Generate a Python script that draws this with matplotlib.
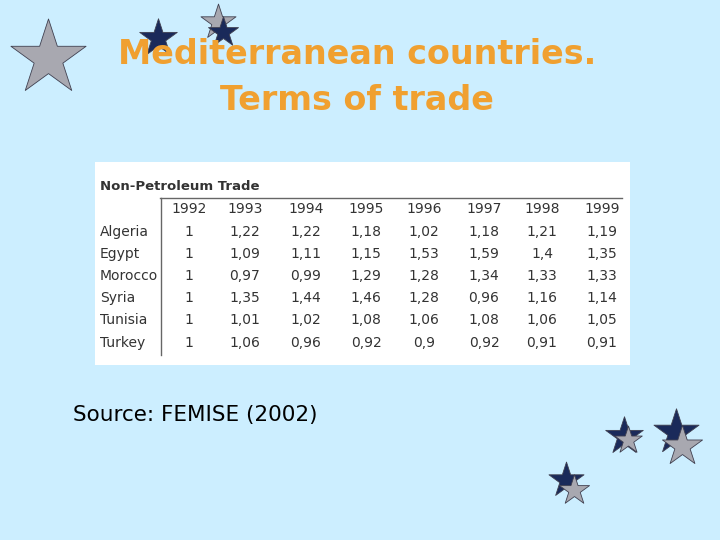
import matplotlib.pyplot as plt
from matplotlib.patches import Rectangle

years = ['1992', '1993', '1994', '1995', '1996', '1997', '1998', '1999']
countries = ['Algeria', 'Egypt', 'Morocco', 'Syria', 'Tunisia', 'Turkey']
values = [
    ['1', '1,22', '1,22', '1,18', '1,02', '1,18', '1,21', '1,19'],
    ['1', '1,09', '1,11', '1,15', '1,53', '1,59', '1,4', '1,35'],
    ['1', '0,97', '0,99', '1,29', '1,28', '1,34', '1,33', '1,33'],
    ['1', '1,35', '1,44', '1,46', '1,28', '0,96', '1,16', '1,14'],
    ['1', '1,01', '1,02', '1,08', '1,06', '1,08', '1,06', '1,05'],
    ['1', '1,06', '0,96', '0,92', '0,9', '0,92', '0,91', '0,91'],
]

fig = plt.figure(figsize=(7.2, 5.4), dpi=100)
fig.patch.set_facecolor('#cceeff')
ax = fig.add_axes([0, 0, 1, 1])
ax.set_xlim(0, 720)
ax.set_ylim(540, 0)
ax.axis('off')

# decorative stars (behind title)
stars = [(48, 58, 60, '#a8a8b0'), (158, 38, 30, '#1a2a5a'), (218, 22, 28, '#a8a8b0'),
         (223, 32, 24, '#1a2a5a'), (624, 436, 30, '#1a2a5a'), (628, 440, 22, '#a8a8b0'),
         (676, 432, 36, '#1a2a5a'), (682, 446, 32, '#a8a8b0'), (566, 480, 28, '#1a2a5a'),
         (574, 490, 24, '#a8a8b0')]
for x, y, s, col in stars:
    ax.scatter([x], [y], marker='*', s=s * s * 0.9, color=col, edgecolor='#404050',
               linewidth=0.6, zorder=1)

# title
ax.text(357, 55, 'Mediterranean countries.', ha='center', va='center',
        fontsize=24, fontweight='bold', color='#f0a030', zorder=4)
ax.text(357, 100, 'Terms of trade', ha='center', va='center',
        fontsize=24, fontweight='bold', color='#f0a030', zorder=4)

# table
ax.add_patch(Rectangle((95, 162), 535, 203, facecolor='white', edgecolor='none'))
ax.text(100, 187, 'Non-Petroleum Trade', ha='left', va='center',
        fontsize=9.5, fontweight='bold', color='#333333')
ax.plot([160, 622], [198, 198], color='#666666', lw=1)
ax.plot([161, 161], [198, 355], color='#666666', lw=1)

col_x = [189, 245, 306, 366, 424, 484, 542, 602]
row_y = [232, 254, 276, 298, 320, 343]
for x, yr in zip(col_x, years):
    ax.text(x, 209, yr, ha='center', va='center', fontsize=10, color='#333333')
for y, c, row in zip(row_y, countries, values):
    ax.text(100, y, c, ha='left', va='center', fontsize=10, color='#333333')
    for x, v in zip(col_x, row):
        ax.text(x, y, v, ha='center', va='center', fontsize=10, color='#333333')

ax.text(73, 415, 'Source: FEMISE (2002)', ha='left', va='center',
        fontsize=15.5, color='black')

fig.savefig('out.png', dpi=100, facecolor=fig.get_facecolor())
